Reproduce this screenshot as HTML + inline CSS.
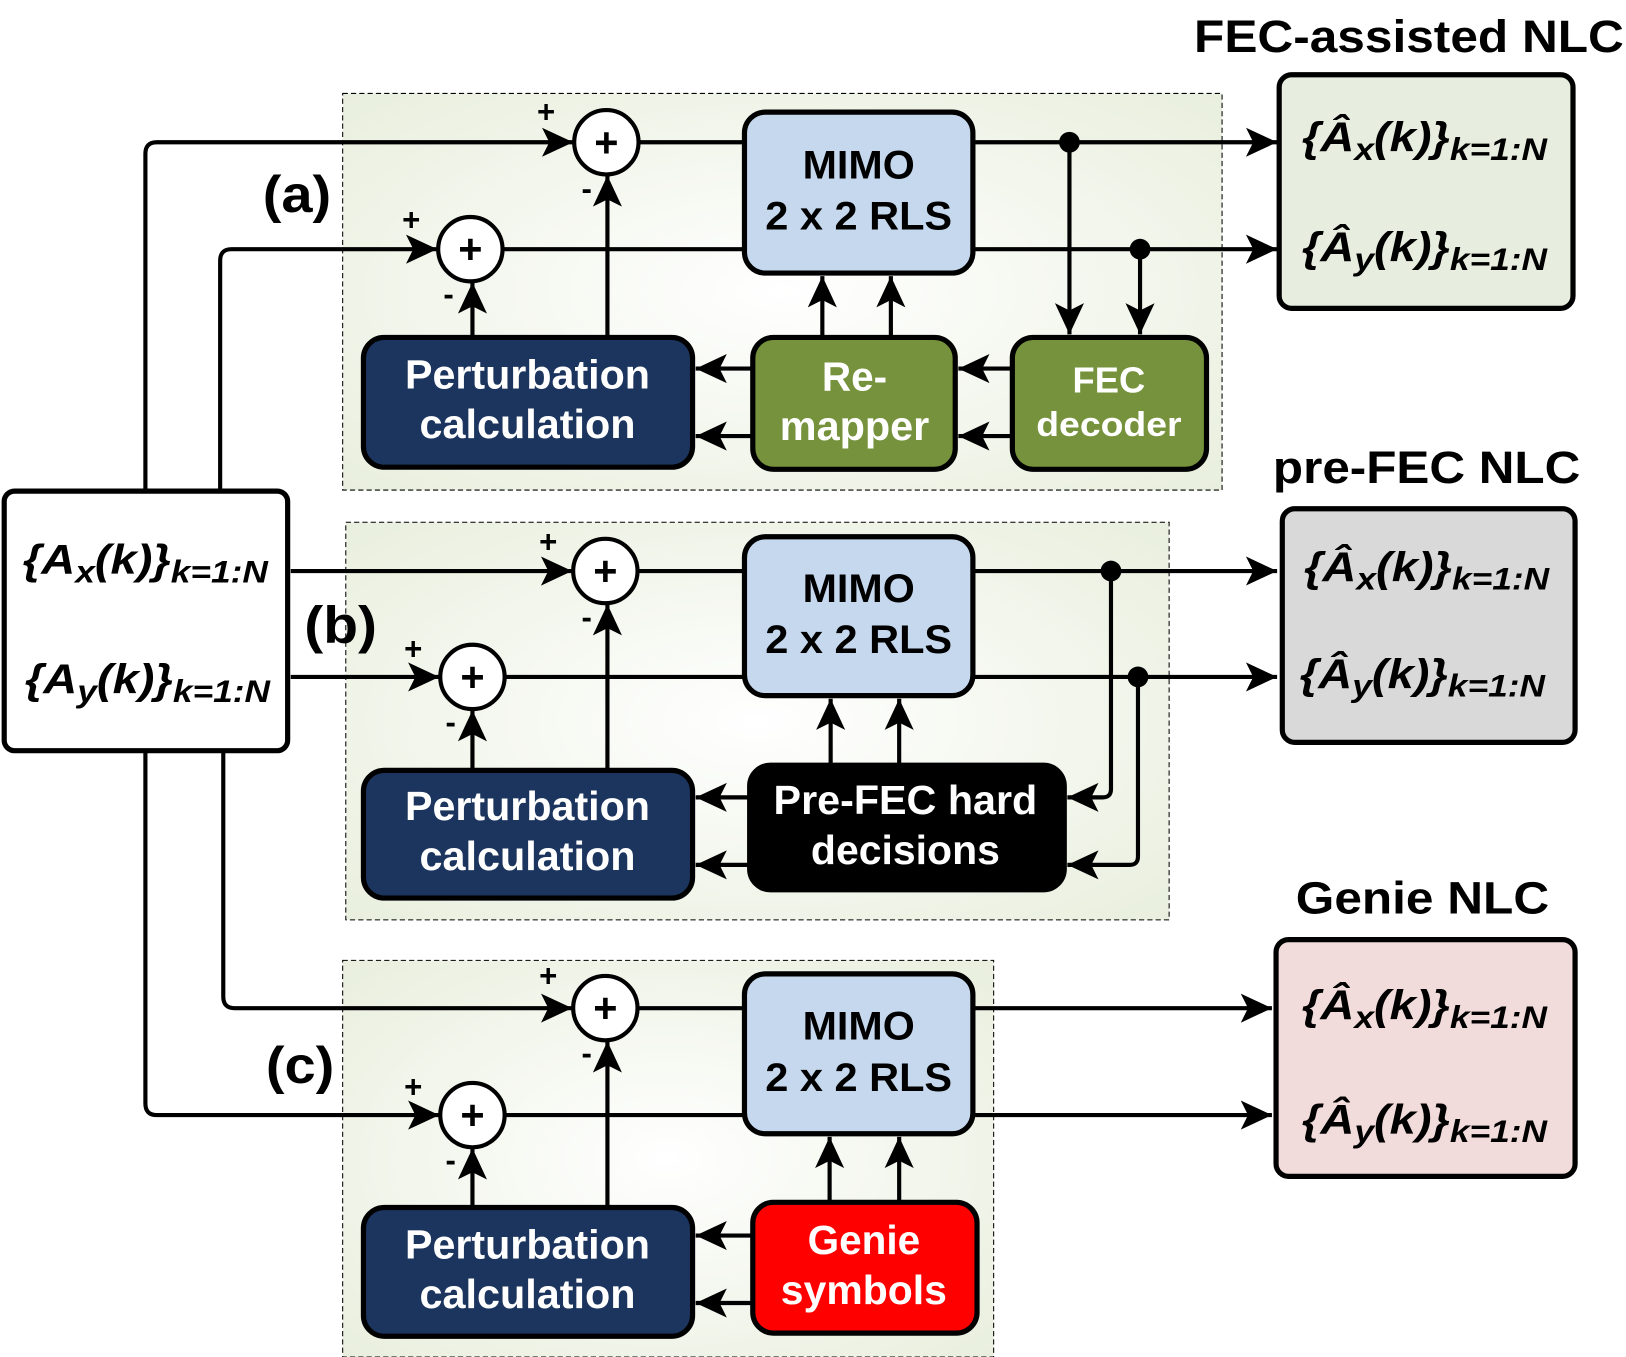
<!DOCTYPE html>
<html><head><meta charset="utf-8"><style>
html,body{margin:0;padding:0;background:#fff;}
svg{display:block;}
text{font-family:"Liberation Sans",Arial,sans-serif;font-weight:bold;}
</style></head><body>
<svg width="1626" height="1357" viewBox="0 0 1566 1307" xmlns="http://www.w3.org/2000/svg">
<defs>
<marker id="ar" markerUnits="userSpaceOnUse" markerWidth="32" markerHeight="30" refX="30" refY="14" orient="auto">
<path d="M0,0 L30,14 L0,28 L7,14 z" fill="#000"/></marker>
<radialGradient id="pg" cx="0.5" cy="0.5" r="0.7"><stop offset="0" stop-color="#ffffff"/><stop offset="1" stop-color="#e9efde"/></radialGradient>
</defs>

<rect x="330" y="90" width="847" height="382" fill="url(#pg)" stroke="#000" stroke-width="1" stroke-dasharray="5,3"/>
<rect x="333" y="503" width="793" height="383" fill="url(#pg)" stroke="#000" stroke-width="1" stroke-dasharray="5,3"/>
<rect x="330" y="925" width="627" height="382" fill="url(#pg)" stroke="#000" stroke-width="1" stroke-dasharray="5,3"/>

<text x="1150" y="50" font-size="44" textLength="414" lengthAdjust="spacingAndGlyphs">FEC-assisted NLC</text>
<text x="1226" y="465" font-size="44" textLength="296" lengthAdjust="spacingAndGlyphs">pre-FEC NLC</text>
<text x="1248" y="880" font-size="44" textLength="244" lengthAdjust="spacingAndGlyphs">Genie NLC</text>
<text x="253" y="204" font-size="50" textLength="66" lengthAdjust="spacingAndGlyphs">(a)</text>
<text x="293" y="619" font-size="50" textLength="70" lengthAdjust="spacingAndGlyphs">(b)</text>
<text x="256" y="1043" font-size="50" textLength="66" lengthAdjust="spacingAndGlyphs">(c)</text>

<g stroke="#000" stroke-width="4" fill="none">
<path d="M140,472 V148 Q140,137 151,137 H552" marker-end="url(#ar)"/>
<path d="M212,472 V251 Q212,240 223,240 H421" marker-end="url(#ar)"/>
<path d="M615,137 H717 M484,240 H717"/>
<path d="M937,137 H1230" marker-end="url(#ar)"/>
<path d="M937,240 H1230" marker-end="url(#ar)"/>
<path d="M1030,137 V322" marker-end="url(#ar)"/>
<path d="M1098,240 V322" marker-end="url(#ar)"/>
<path d="M792,325 V266" marker-end="url(#ar)"/>
<path d="M858,325 V266" marker-end="url(#ar)"/>
<path d="M455,325 V272" marker-end="url(#ar)"/>
<path d="M585,325 V169" marker-end="url(#ar)"/>
<path d="M975,355 H923" marker-end="url(#ar)"/>
<path d="M975,420 H923" marker-end="url(#ar)"/>
<path d="M725,355 H670" marker-end="url(#ar)"/>
<path d="M725,420 H670" marker-end="url(#ar)"/>
<path d="M280,550 H551" marker-end="url(#ar)"/>
<path d="M280,652 H423" marker-end="url(#ar)"/>
<path d="M614,550 H717 M486,652 H717"/>
<path d="M937,550 H1230" marker-end="url(#ar)"/>
<path d="M937,652 H1230" marker-end="url(#ar)"/>
<path d="M1070,550 V760 Q1070,768 1062,768 H1028" marker-end="url(#ar)"/>
<path d="M1096,652 V825 Q1096,833 1088,833 H1028" marker-end="url(#ar)"/>
<path d="M800,737 V673" marker-end="url(#ar)"/>
<path d="M866,737 V673" marker-end="url(#ar)"/>
<path d="M455,742 V684" marker-end="url(#ar)"/>
<path d="M585,742 V582" marker-end="url(#ar)"/>
<path d="M722,768 H670" marker-end="url(#ar)"/>
<path d="M722,833 H670" marker-end="url(#ar)"/>
<path d="M215,723 V960 Q215,971 226,971 H551" marker-end="url(#ar)"/>
<path d="M140,723 V1063 Q140,1074 151,1074 H423" marker-end="url(#ar)"/>
<path d="M614,971 H717 M486,1074 H717"/>
<path d="M937,971 H1225" marker-end="url(#ar)"/>
<path d="M937,1074 H1225" marker-end="url(#ar)"/>
<path d="M799,1158 V1095" marker-end="url(#ar)"/>
<path d="M866,1158 V1095" marker-end="url(#ar)"/>
<path d="M455,1163 V1106" marker-end="url(#ar)"/>
<path d="M585,1163 V1003" marker-end="url(#ar)"/>
<path d="M725,1190 H670" marker-end="url(#ar)"/>
<path d="M725,1255 H670" marker-end="url(#ar)"/>
</g>
<g fill="#000">
<circle cx="1030" cy="137" r="10"/><circle cx="1098" cy="240" r="10"/>
<circle cx="1070" cy="550" r="10"/><circle cx="1096" cy="652" r="10"/>
</g>

<g stroke="#000" stroke-width="4" fill="#fff">
<circle cx="584" cy="137" r="31"/><circle cx="453" cy="240" r="31"/>
<circle cx="583" cy="550" r="31"/><circle cx="455" cy="652" r="31"/>
<circle cx="583" cy="971" r="31"/><circle cx="455" cy="1074" r="31"/>
</g>
<g font-size="40" text-anchor="middle">
<text x="584" y="151">+</text><text x="453" y="254">+</text>
<text x="583" y="564">+</text><text x="455" y="666">+</text>
<text x="583" y="985">+</text><text x="455" y="1088">+</text>
</g>
<g font-size="30" text-anchor="middle">
<text x="526" y="118">+</text><text x="565" y="192">-</text><text x="396" y="222">+</text><text x="432" y="294">-</text>
<text x="528" y="532">+</text><text x="565" y="605">-</text><text x="398" y="635">+</text><text x="434" y="706">-</text>
<text x="528" y="950">+</text><text x="565" y="1025">-</text><text x="398" y="1057">+</text><text x="434" y="1128">-</text>
</g>

<g stroke="#000" stroke-width="5">
<rect x="4" y="473" width="273" height="250" rx="10" fill="#fff"/>
<rect x="1232" y="72" width="283" height="225" rx="12" fill="#e8eedf"/>
<rect x="1235" y="490" width="282" height="225" rx="12" fill="#d9d9d9"/>
<rect x="1229" y="905" width="288" height="228" rx="12" fill="#f2dcdb"/>
<rect x="717" y="108" width="220" height="155" rx="20" fill="#c5d8ee"/>
<rect x="717" y="517" width="220" height="153" rx="20" fill="#c5d8ee"/>
<rect x="717" y="938" width="220" height="154" rx="20" fill="#c5d8ee"/>
<rect x="350" y="325" width="317" height="125" rx="20" fill="#1c355e"/>
<rect x="350" y="742" width="317" height="123" rx="20" fill="#1c355e"/>
<rect x="350" y="1163" width="317" height="124" rx="20" fill="#1c355e"/>
<rect x="725" y="325" width="195" height="127" rx="20" fill="#76923c"/>
<rect x="975" y="325" width="187" height="127" rx="20" fill="#76923c"/>
<rect x="722" y="737" width="303" height="120" rx="20" fill="#000"/>
<rect x="725" y="1158" width="216" height="126" rx="20" fill="#ff0000"/>
</g>

<g font-size="38" text-anchor="middle">
<text x="827" y="172" textLength="108" lengthAdjust="spacingAndGlyphs">MIMO</text><text x="827" y="221" textLength="180" lengthAdjust="spacingAndGlyphs">2 x 2 RLS</text>
<text x="827" y="580" textLength="108" lengthAdjust="spacingAndGlyphs">MIMO</text><text x="827" y="629" textLength="180" lengthAdjust="spacingAndGlyphs">2 x 2 RLS</text>
<text x="827" y="1001" textLength="108" lengthAdjust="spacingAndGlyphs">MIMO</text><text x="827" y="1051" textLength="180" lengthAdjust="spacingAndGlyphs">2 x 2 RLS</text>
</g>
<g font-size="39" text-anchor="middle" fill="#fff">
<text x="508" y="374" textLength="236" lengthAdjust="spacingAndGlyphs">Perturbation</text><text x="508" y="422" textLength="208" lengthAdjust="spacingAndGlyphs">calculation</text>
<text x="508" y="790" textLength="236" lengthAdjust="spacingAndGlyphs">Perturbation</text><text x="508" y="838" textLength="208" lengthAdjust="spacingAndGlyphs">calculation</text>
<text x="508" y="1212" textLength="236" lengthAdjust="spacingAndGlyphs">Perturbation</text><text x="508" y="1260" textLength="208" lengthAdjust="spacingAndGlyphs">calculation</text>
<text x="823" y="376">Re-</text><text x="823" y="424" textLength="144" lengthAdjust="spacingAndGlyphs">mapper</text>
<text x="1068" y="378" font-size="35">FEC</text><text x="1068" y="420" font-size="33" textLength="140" lengthAdjust="spacingAndGlyphs">decoder</text>
<text x="872" y="784" textLength="254" lengthAdjust="spacingAndGlyphs">Pre-FEC hard</text><text x="872" y="832" textLength="182" lengthAdjust="spacingAndGlyphs">decisions</text>
<text x="832" y="1208">Genie</text><text x="832" y="1256" textLength="160" lengthAdjust="spacingAndGlyphs">symbols</text>
</g>

<g font-size="40" font-style="italic">
<text x="22" y="553" textLength="236" lengthAdjust="spacingAndGlyphs">{A<tspan font-size="30" dy="8">x</tspan><tspan dy="-8">(k)}</tspan><tspan font-size="30" dy="8">k=1:N</tspan></text>
<text x="24" y="668" textLength="236" lengthAdjust="spacingAndGlyphs">{A<tspan font-size="30" dy="8">y</tspan><tspan dy="-8">(k)}</tspan><tspan font-size="30" dy="8">k=1:N</tspan></text>
<text x="1254" y="146" textLength="236" lengthAdjust="spacingAndGlyphs">{Â<tspan font-size="30" dy="8">x</tspan><tspan dy="-8">(k)}</tspan><tspan font-size="30" dy="8">k=1:N</tspan></text>
<text x="1254" y="252" textLength="236" lengthAdjust="spacingAndGlyphs">{Â<tspan font-size="30" dy="8">y</tspan><tspan dy="-8">(k)}</tspan><tspan font-size="30" dy="8">k=1:N</tspan></text>
<text x="1256" y="560" textLength="236" lengthAdjust="spacingAndGlyphs">{Â<tspan font-size="30" dy="8">x</tspan><tspan dy="-8">(k)}</tspan><tspan font-size="30" dy="8">k=1:N</tspan></text>
<text x="1252" y="663" textLength="236" lengthAdjust="spacingAndGlyphs">{Â<tspan font-size="30" dy="8">y</tspan><tspan dy="-8">(k)}</tspan><tspan font-size="30" dy="8">k=1:N</tspan></text>
<text x="1254" y="982" textLength="236" lengthAdjust="spacingAndGlyphs">{Â<tspan font-size="30" dy="8">x</tspan><tspan dy="-8">(k)}</tspan><tspan font-size="30" dy="8">k=1:N</tspan></text>
<text x="1254" y="1092" textLength="236" lengthAdjust="spacingAndGlyphs">{Â<tspan font-size="30" dy="8">y</tspan><tspan dy="-8">(k)}</tspan><tspan font-size="30" dy="8">k=1:N</tspan></text>
</g>
</svg>
</body></html>
